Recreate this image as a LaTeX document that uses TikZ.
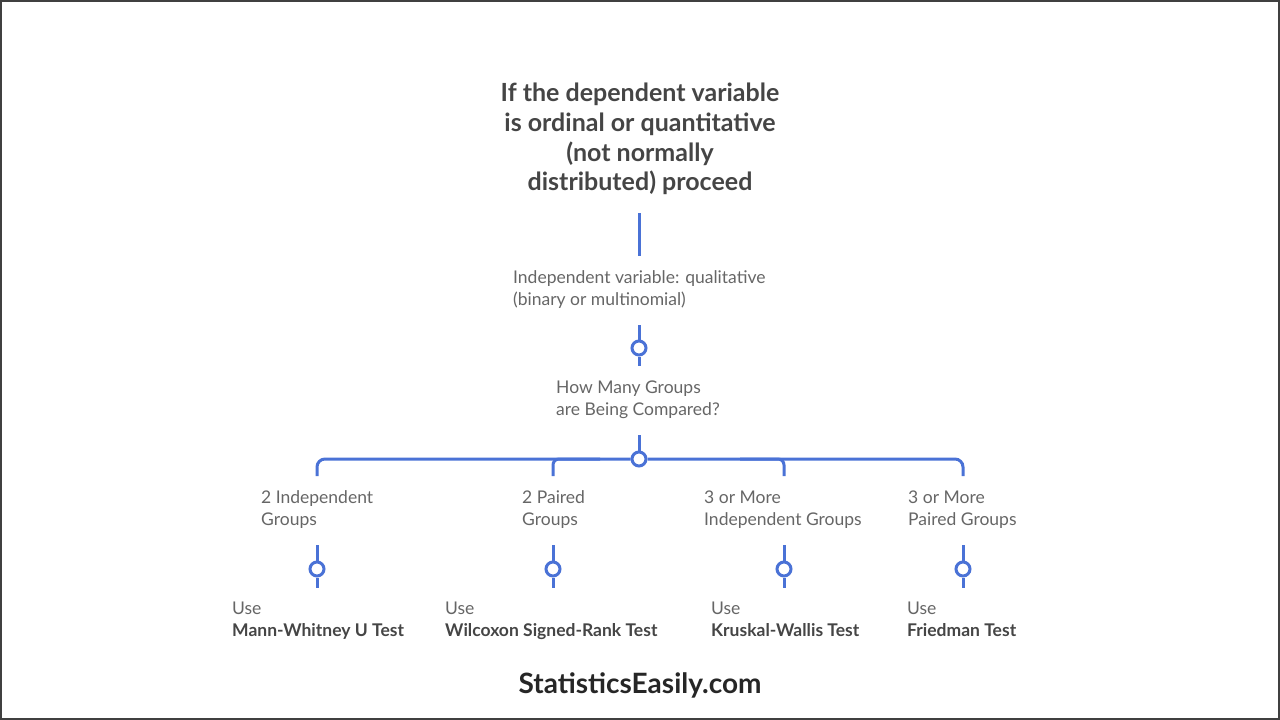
\documentclass[tikz,border=0pt]{standalone}
\usepackage{fontspec}
\setmainfont{Lato}
\begin{document}
\begin{tikzpicture}[x=1pt,y=-1pt,
  ln/.style={draw=blu,line width=3pt},
  circ/.style={circle,draw=blu,line width=3pt,fill=white,minimum size=14pt,inner sep=0pt},
  lab/.style={anchor=west,text=txt,font=\fontsize{17.5}{22}\selectfont,align=left,inner sep=0pt},
  res/.style={anchor=west,text=txt,font=\fontsize{17.5}{22}\selectfont,align=left,inner sep=0pt}]
\definecolor{blu}{HTML}{4A72D6}
\definecolor{txt}{HTML}{666666}
\definecolor{ttl}{HTML}{454545}
\useasboundingbox (0,0) rectangle (1280,720);
\draw[draw=black!75,line width=2pt] (1,1) rectangle (1279,719);
\node[text=ttl,font=\bfseries\fontsize{25}{29.7}\selectfont,align=center] (title) at (640,139) {If the dependent variable\\is ordinal or quantitative\\(not normally\\distributed) proceed};
\coordinate (t1) at (639,213); \coordinate (t2) at (639,256);
\draw[ln] (t1) -- (t2);
\node[lab] (iv) at (513,290) {\strut Independent variable: qualitative\\\strut(binary or multinomial)};
\node[circ] (c1) at (639,348) {};
\coordinate (c1a) at (639,325); \coordinate (c1b) at (639,366);
\draw[ln] (c1a) -- (c1.north); \draw[ln] (c1.south) -- (c1b);
\node[lab] (hm) at (556,400) {\strut How Many Groups\\\strut are Being Compared?};
\node[circ] (c2) at (639,459) {};
\coordinate (c2a) at (639,435);
\draw[ln] (c2a) -- (c2.north);
\foreach \x/\n in {317/a,553/b,784/c,963/d}{
  \coordinate (d\n) at (\x,476);
}
\draw[ln,rounded corners=8pt] (da) -- (317,459) -- (c2.west);
\draw[ln,rounded corners=8pt] (dd) -- (963,459) -- (c2.east);
\draw[ln,rounded corners=6pt] (db) -- (553,459) -- (600,459);
\draw[ln,rounded corners=6pt] (dc) -- (784,459) -- (740,459);
\node[lab] (g1) at (261,510) {\strut 2 Independent\\\strut Groups};
\node[lab] (g2) at (522,510) {\strut 2 Paired\\\strut Groups};
\node[lab] (g3) at (704,510) {\strut 3 or More\\\strut Independent Groups};
\node[lab] (g4) at (908,510) {\strut 3 or More\\\strut Paired Groups};
\foreach \x/\n in {317/a,553/b,784/c,963/d}{
  \node[circ] (k\n) at (\x,569) {};
  \coordinate (ka\n) at (\x,545); \coordinate (kb\n) at (\x,588);
  \draw[ln] (ka\n) -- (k\n.north); \draw[ln] (k\n.south) -- (kb\n);
}
\node[res] (r1) at (232,621) {\strut Use\\\strut\textbf{\color{ttl}Mann-Whitney U Test}};
\node[res] (r2) at (445,621) {\strut Use\\\strut\textbf{\color{ttl}Wilcoxon Signed-Rank Test}};
\node[res] (r3) at (711,621) {\strut Use\\\strut\textbf{\color{ttl}Kruskal-Wallis Test}};
\node[res] (r4) at (907,621) {\strut Use\\\strut\textbf{\color{ttl}Friedman Test}};
\node[font=\bfseries\fontsize{28}{30}\selectfont,text=black!85] (ft) at (640,685) {StatisticsEasily.com};
\end{tikzpicture}
\end{document}
